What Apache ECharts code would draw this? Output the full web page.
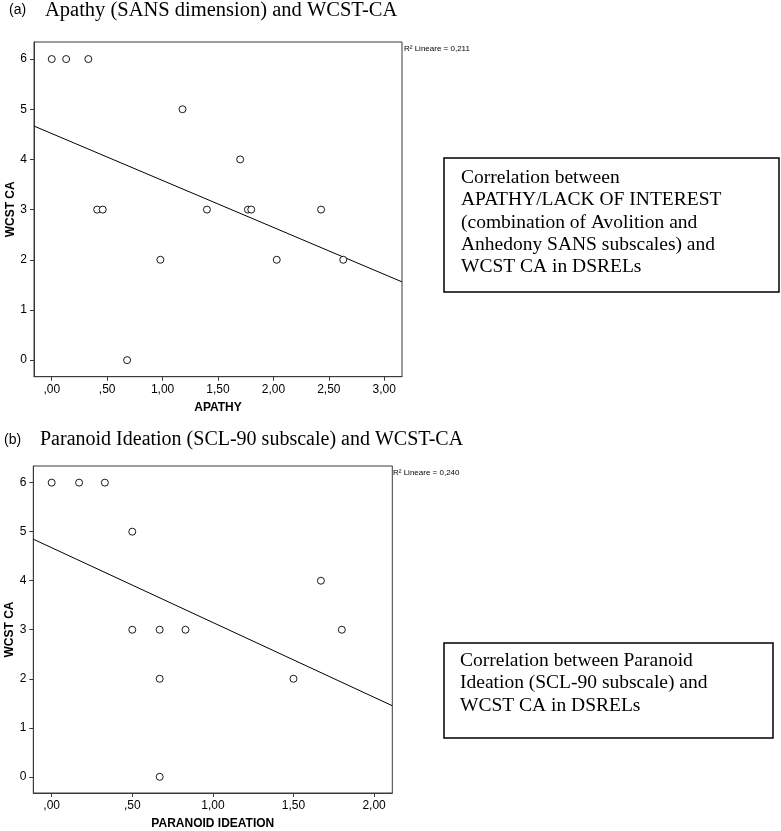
<!DOCTYPE html>
<html>
<head>
<meta charset="utf-8">
<script src="https://cdn.jsdelivr.net/npm/echarts@6/dist/echarts.min.js"></script>
<style>
html,body{margin:0;padding:0;background:#fff;}
#chart{width:781px;height:831px;}
</style>
</head>
<body>
<div id="chart"></div>
<script>
// ---- Data ----
// Panel (a): Apathy (SANS) vs WCST CA
const apathyX    = [0.00, 0.13, 0.33, 1.18, 1.70, 0.41, 0.46, 1.40, 1.77, 1.80, 2.43, 0.98, 2.03, 2.63, 0.68];
const apathyWcst = [6, 6, 6, 5, 4, 3, 3, 3, 3, 3, 3, 2, 2, 2, 0];
// Panel (b): Paranoid ideation (SCL-90) vs WCST CA
const paranoidX    = [0.00, 0.17, 0.33, 0.50, 1.67, 0.50, 0.67, 0.83, 1.80, 0.67, 1.50, 0.67];
const paranoidWcst = [6, 6, 6, 5, 4, 3, 3, 3, 3, 2, 2, 0];
// Linear fit lines (end points, at the axis limits)
const fitApathyX   = [-0.16, 3.16];
const fitApathyY   = [4.665, 1.56];
const fitParanoidX = [-0.114, 2.113];
const fitParanoidY = [4.847, 1.45];
// Axis ticks and labels
const xTicksApathy      = [0, 0.5, 1, 1.5, 2, 2.5, 3];
const xTickLabelsApathy = [',00', ',50', '1,00', '1,50', '2,00', '2,50', '3,00'];
const xTicksParanoid      = [0, 0.5, 1, 1.5, 2];
const xTickLabelsParanoid = [',00', ',50', '1,00', '1,50', '2,00'];
const yTicks      = [0, 1, 2, 3, 4, 5, 6];
const yTickLabels = ['0', '1', '2', '3', '4', '5', '6'];
// Texts
const titleA = 'Apathy (SANS dimension) and WCST-CA';
const titleB = 'Paranoid Ideation (SCL-90 subscale) and WCST-CA';
const r2A = 'R\u00B2 Lineare = 0,211';
const r2B = 'R\u00B2 Lineare = 0,240';
const boxLinesA = ['Correlation between', 'APATHY/LACK OF INTEREST', '(combination of Avolition and', 'Anhedony SANS subscales) and', 'WCST CA in DSRELs'];
const boxLinesB = ['Correlation between Paranoid', 'Ideation (SCL-90 subscale) and', 'WCST CA in DSRELs'];

// ---- helpers ----
function pairs(xs, ys) { return xs.map((x, i) => [x, ys[i]]); }
function labeler(ticks, labels) {
  return function (v) {
    const i = ticks.findIndex(t => Math.abs(t - v) < 1e-6);
    return i >= 0 ? labels[i] : '';
  };
}
const sans = 'Liberation Sans, Arial, sans-serif';
const serif = 'Liberation Serif, Times New Roman, serif';
const axisCol = '#3a3a3a';

function xAxis(gridIndex, min, max, ticks, labels, name) {
  return {
    type: 'value', gridIndex, min, max,
    name, nameLocation: 'middle', nameGap: 25,
    nameTextStyle: { fontFamily: sans, fontWeight: 'bold', fontSize: 12, color: '#000' },
    axisLine: { show: true, onZero: false, lineStyle: { color: axisCol, width: 1 } },
    axisTick: { show: true, inside: false, length: 4, customValues: ticks, lineStyle: { color: axisCol } },
    axisLabel: { customValues: ticks, formatter: labeler(ticks, labels), margin: 7,
      fontFamily: sans, fontSize: 12, color: '#000' },
    splitLine: { show: false }
  };
}
function yAxis(gridIndex) {
  return {
    type: 'value', gridIndex, min: -0.33, max: 6.34,
    name: 'WCST CA', nameLocation: 'middle', nameGap: 15, nameRotate: 90,
    nameTextStyle: { fontFamily: sans, fontWeight: 'bold', fontSize: 12, color: '#000' },
    axisLine: { show: true, onZero: false, lineStyle: { color: axisCol, width: 1 } },
    axisTick: { show: true, inside: false, length: 4, customValues: yTicks, lineStyle: { color: axisCol } },
    axisLabel: { customValues: yTicks, formatter: labeler(yTicks, yTickLabels), margin: 7,
      fontFamily: sans, fontSize: 12, color: '#000' },
    splitLine: { show: false }
  };
}
function scatter(idx, data) {
  return {
    type: 'scatter', xAxisIndex: idx, yAxisIndex: idx, data,
    symbol: 'circle', symbolSize: 7,
    itemStyle: { color: '#fff', borderColor: '#000', borderWidth: 0.9, opacity: 1 },
    silent: true, z: 3
  };
}
function fit(idx, data) {
  return {
    type: 'line', xAxisIndex: idx, yAxisIndex: idx, data,
    showSymbol: false, symbol: 'none', clip: true,
    lineStyle: { color: '#000', width: 1 }, silent: true, z: 2
  };
}
function textLines(lines, x, y0, lh) {
  return lines.map((t, i) => ({
    type: 'text', left: x, top: y0 + i * lh,
    style: { text: t, fill: '#000', font: '19.5px ' + serif }
  }));
}

const chart = echarts.init(document.getElementById('chart'), null, { renderer: 'canvas' });
chart.setOption({
  animation: false,
  backgroundColor: '#fff',
  grid: [
    { left: 34, top: 42, width: 368, height: 334.7, show: true, borderColor: axisCol, borderWidth: 1, backgroundColor: '#fff' },
    { left: 33.3, top: 466, width: 359, height: 327.3, show: true, borderColor: axisCol, borderWidth: 1, backgroundColor: '#fff' }
  ],
  xAxis: [
    xAxis(0, -0.16, 3.16, xTicksApathy, xTickLabelsApathy, 'APATHY'),
    xAxis(1, -0.114, 2.113, xTicksParanoid, xTickLabelsParanoid, 'PARANOID IDEATION')
  ],
  yAxis: [yAxis(0), yAxis(1)],
  series: [
    fit(0, pairs(fitApathyX, fitApathyY)),
    scatter(0, pairs(apathyX, apathyWcst)),
    fit(1, pairs(fitParanoidX, fitParanoidY)),
    scatter(1, pairs(paranoidX, paranoidWcst))
  ],
  graphic: [
    { type: 'text', left: 9, top: 3, style: { text: '(a)', fill: '#000', font: '14px ' + sans } },
    { type: 'text', left: 45, top: 0, style: { text: titleA, fill: '#000', font: '20.5px ' + serif } },
    { type: 'text', left: 4, top: 433, style: { text: '(b)', fill: '#000', font: '14px ' + sans } },
    { type: 'text', left: 40, top: 430, style: { text: titleB, fill: '#000', font: '20px ' + serif } },
    { type: 'text', left: 404, top: 45, style: { text: r2A, fill: '#000', font: '8px ' + sans } },
    { type: 'text', left: 393, top: 469, style: { text: r2B, fill: '#000', font: '8px ' + sans } },
    { type: 'rect', shape: { x: 444, y: 158, width: 335, height: 134 },
      style: { fill: '#fff', stroke: '#000', lineWidth: 1.5 } },
    ...textLines(boxLinesA, 461, 168, 22.3),
    { type: 'rect', shape: { x: 444, y: 643, width: 329, height: 95 },
      style: { fill: '#fff', stroke: '#000', lineWidth: 1.5 } },
    ...textLines(boxLinesB, 460, 651, 22.3)
  ]
});
</script>
</body>
</html>
